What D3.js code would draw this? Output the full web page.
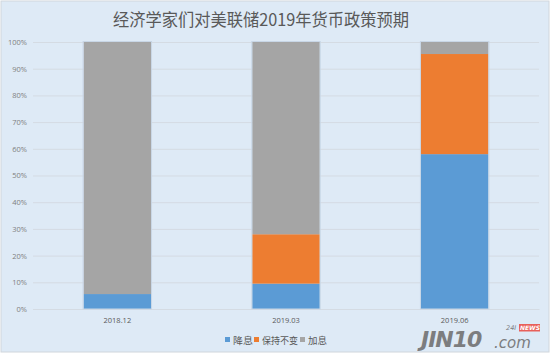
<!DOCTYPE html>
<html><head><meta charset="utf-8">
<script src="https://cdn.jsdelivr.net/npm/d3@7"></script>
<style>body{margin:0;background:#fff}svg{display:block}</style>
</head><body>
<script>
const categories = ["2018.12", "2019.03", "2019.06"];
const seriesNames = ["降息", "保持不变", "加息"];
const cut = [5.6, 9.5, 58.0];
const hold = [0, 18.5, 37.5];
const hike = [94.4, 72.0, 4.5];
const yTicks = [0,10,20,30,40,50,60,70,80,90,100];
const colors = ["#5B9BD5", "#ED7D31", "#A5A5A5"];
const title = "经济学家们对美联储2019年货币政策预期";

const W = 550, H = 355;
const svg = d3.select("body").append("svg").attr("width", W).attr("height", H);
svg.append("rect").attr("x",0).attr("y",0).attr("width",W).attr("height",H).attr("fill","#fff");
svg.append("rect").attr("x",1).attr("y",1).attr("width",W-2).attr("height",H-4)
  .attr("fill","#DEEAF6").attr("stroke","#d0d6dc").attr("stroke-width",1);

const x = d3.scaleBand().domain(categories).range([33, 539]).paddingInner(0.6).paddingOuter(0.3);
const y = d3.scaleLinear().domain([0,100]).range([309, 42]);

svg.append("text").attr("x", 261).attr("y", 26).attr("text-anchor","middle")
  .attr("font-family","'Noto Sans CJK SC', sans-serif").attr("font-size",17)
  .attr("textLength",296).attr("lengthAdjust","spacingAndGlyphs")
  .attr("fill","#595959").text(title);

// grid
svg.append("g").selectAll("line").data(yTicks).join("line")
  .attr("x1",33).attr("x2",539).attr("y1",d=>y(d)+0.5).attr("y2",d=>y(d)+0.5)
  .attr("stroke","#d4dbe3").attr("stroke-width",1);

// y axis
const yAxis = d3.axisLeft(y).tickValues(yTicks).tickFormat(d=>d+"%").tickSize(0).tickPadding(6);
const gy = svg.append("g").attr("transform","translate(33,0)").call(yAxis);
gy.select(".domain").remove();
gy.selectAll("text").attr("font-family","'Open Sans', sans-serif").attr("font-size",7.5).attr("fill","#7f7f7f");

// x axis
const xAxis = d3.axisBottom(x).tickSize(0).tickPadding(9);
const gx = svg.append("g").attr("transform","translate(0,309)").call(xAxis);
gx.select(".domain").attr("stroke","#d4dbe3");
gx.selectAll("text").attr("font-family","'Open Sans', sans-serif").attr("font-size",7.5).attr("fill","#595959");

// stack
const rows = categories.map((c,i)=>({cat:c, s0:cut[i], s1:hold[i], s2:hike[i]}));
const stack = d3.stack().keys(["s0","s1","s2"])(rows);
svg.append("g").selectAll("g").data(stack).join("g").attr("fill",(d,i)=>colors[i])
  .selectAll("rect").data(d=>d).join("rect")
  .attr("x",d=>x(d.data.cat)).attr("width",x.bandwidth())
  .attr("y",d=>y(d[1])).attr("height",d=>Math.max(0,y(d[0])-y(d[1])));

// bar outline
svg.append("g").selectAll("rect").data(categories).join("rect")
  .attr("x",d=>x(d)-0.5).attr("y",y(100)-0.5).attr("width",x.bandwidth()+1).attr("height",y(0)-y(100)+0.5)
  .attr("fill","none").attr("stroke","#c8d6e6").attr("stroke-width",1);

// legend
const legX = [225, 254, 300];
const legW = [20, 36, 19];
const lg = svg.append("g");
seriesNames.forEach((n,i)=>{
  lg.append("rect").attr("x",legX[i]).attr("y",337).attr("width",5).attr("height",5).attr("fill",colors[i]);
  lg.append("text").attr("x",legX[i]+8).attr("y",343.5).attr("font-family","'Noto Sans CJK SC', sans-serif")
    .attr("font-size",9.5).attr("textLength",legW[i]).attr("lengthAdjust","spacingAndGlyphs")
    .attr("fill","#595959").text(n);
});

// watermark
const wm = svg.append("g").attr("fill","#6b6b6b").attr("opacity",0.85);
wm.append("text").attr("x",421).attr("y",347).attr("font-family","'DejaVu Sans', sans-serif")
  .attr("font-size",22).attr("font-style","italic").attr("font-weight","bold").attr("letter-spacing",-1).text("JIN10");
wm.append("text").attr("x",494).attr("y",348).attr("font-family","'DejaVu Sans', sans-serif")
  .attr("font-size",15).attr("font-style","italic").text(".com");
wm.append("text").attr("x",506).attr("y",330).attr("font-family","'DejaVu Sans', sans-serif")
  .attr("font-size",6.5).attr("font-style","italic").text("24I");
svg.append("rect").attr("x",519).attr("y",324).attr("width",21).attr("height",7.5).attr("fill","#e8605a");
svg.append("text").attr("x",520).attr("y",330).attr("font-family","'DejaVu Sans', sans-serif")
  .attr("font-size",6).attr("font-style","italic").attr("font-weight","bold").attr("fill","#fff").text("NEWS");
</script>
</body></html>
